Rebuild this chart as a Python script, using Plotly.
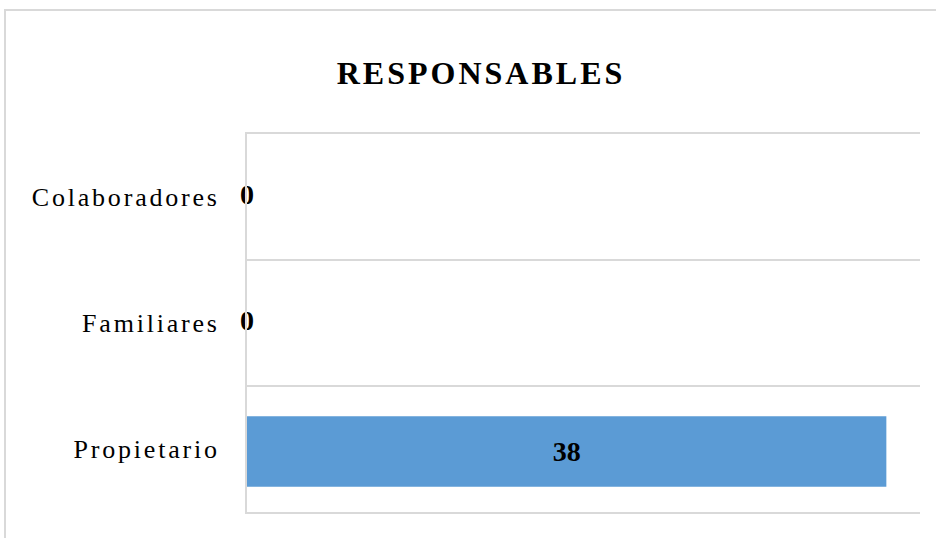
import plotly.graph_objects as go

# Responsables por categoría (de abajo hacia arriba)
categorias = ["Propietario", "Familiares", "Colaboradores"]
valores = [38, 0, 0]
titulo = "RESPONSABLES"

BAR_COLOR = "#5B9BD5"
GRID_COLOR = "#D9D9D9"
SERIF = "Liberation Serif, Times New Roman, serif"

W, H = 936, 538
L, R, T, B = 247, 16, 134, 26
pw, ph = W - L - R, H - T - B

fig = go.Figure()

fig.add_trace(go.Bar(
    y=categorias,
    x=valores,
    orientation="h",
    width=0.56,
    offset=-0.30,
    marker=dict(color=BAR_COLOR, line=dict(width=0)),
    text=[str(v) if v > 0 else "" for v in valores],
    textposition=["inside" if v > 0 else "none" for v in valores],
    insidetextanchor="middle",
    textfont=dict(family=SERIF, size=28, color="black", weight="bold"),
    hoverinfo="skip",
    showlegend=False,
))

# Etiquetas de las barras con valor cero, sobre el eje
ceros = [(c, v) for c, v in zip(categorias, valores) if v == 0]
fig.add_trace(go.Scatter(
    y=[c for c, _ in ceros],
    x=[v for _, v in ceros],
    mode="text",
    text=[str(v) for _, v in ceros],
    textposition="middle center",
    textfont=dict(family=SERIF, size=28, color="black", weight="bold"),
    cliponaxis=False,
    hoverinfo="skip",
    showlegend=False,
))

# Marco exterior del gráfico
fig.add_shape(
    type="rect", xref="paper", yref="paper",
    x0=(5 - L) / pw, x1=(W + 20 - L) / pw,
    y0=-(H + 20 - (T + ph)) / ph, y1=1 + (T - 10) / ph,
    line=dict(color=GRID_COLOR, width=2), fillcolor="rgba(0,0,0,0)",
    layer="below",
)

fig.update_layout(
    width=W, height=H,
    margin=dict(l=L, r=R, t=T, b=B),
    paper_bgcolor="white",
    plot_bgcolor="white",
    title=dict(
        text=titulo,
        x=481 / W, xref="container", xanchor="center",
        y=1 - 73 / H, yref="container", yanchor="middle",
        font=dict(family=SERIF, size=32, color="black", weight="bold"),
    ),
    xaxis=dict(
        range=[0, 40],
        showticklabels=False,
        showgrid=False,
        zeroline=False,
        showline=True, mirror=True,
        linecolor=GRID_COLOR, linewidth=2,
        fixedrange=True,
    ),
    yaxis=dict(
        categoryorder="array", categoryarray=categorias,
        range=[-0.5, 2.5],
        tickson="boundaries",
        showgrid=True, gridcolor=GRID_COLOR, gridwidth=2,
        ticks="",
        showline=True, linecolor=GRID_COLOR, linewidth=2,
        ticklabelstandoff=20,
        tickfont=dict(family=SERIF, size=26, color="black"),
        fixedrange=True,
    ),
    bargap=0.44,
)

# Espaciado entre letras del título y de las categorías
post = """
var gd = document.getElementById('{plot_id}');
function espaciar() {
  gd.querySelectorAll('.ytick text').forEach(function(t){ t.style.letterSpacing = '2.8px'; });
  gd.querySelectorAll('.gtitle').forEach(function(t){ t.style.letterSpacing = '3px'; });
}
espaciar();
gd.on('plotly_afterplot', espaciar);
"""

fig.write_html("out.html", post_script=post, config={"displayModeBar": False})
